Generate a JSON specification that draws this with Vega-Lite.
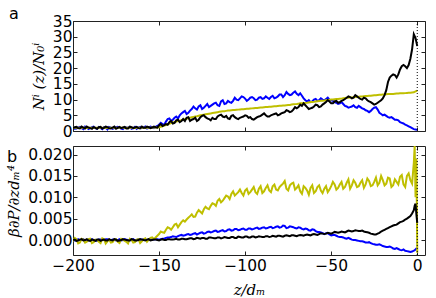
{
"$schema": "https://vega.github.io/schema/vega-lite/v6.json",
"padding": {"left": 6, "top": 5, "right": 5, "bottom": 0},
"spacing": 15,
"bounds": "flush",
"config": {
  "view": {"stroke": "#222", "strokeWidth": 1},
  "axis": {"grid": false, "domain": false, "tickSize": -4, "tickColor": "#222", "tickWidth": 1, "minExtent": 0,
    "labelFont": "DejaVu Sans", "labelFontSize": 15.5, "labelColor": "#000", "labelOverlap": false, "labelFlush": false, "labelBound": false,
    "titleFont": "DejaVu Serif", "titleFontStyle": "italic", "titleFontWeight": "normal", "titleFontSize": 15, "titleColor": "#000"},
  "title": {"font": "DejaVu Sans", "fontSize": 16, "fontWeight": "normal", "color": "#000", "anchor": "start", "frame": "group"}
},
"vconcat": [
{
  "width": 352, "height": 110,
  "title": {"text": "a", "dx": -64, "dy": 8, "offset": 0},
  "data": {"values": [
{"z":-200,"b":1.2,"y":1.0,"k":0.9},{"z":-198,"b":0.8,"y":1.0,"k":1.3},{"z":-196,"b":1.3,"y":1.05,"k":0.8},{"z":-194,"b":0.6,"y":1.0,"k":1.1},
{"z":-192,"b":1.1,"y":0.95,"k":1.4},{"z":-190,"b":0.9,"y":1.0,"k":0.9},{"z":-188,"b":1.4,"y":1.0,"k":1.2},{"z":-186,"b":0.7,"y":1.05,"k":0.7},
{"z":-184,"b":1.0,"y":1.0,"k":1.3},{"z":-182,"b":1.2,"y":1.0,"k":1.0},{"z":-180,"b":0.5,"y":0.95,"k":1.2},{"z":-178,"b":1.1,"y":1.0,"k":0.8},
{"z":-176,"b":0.9,"y":1.0,"k":1.4},{"z":-174,"b":1.3,"y":1.0,"k":1.0},{"z":-172,"b":0.8,"y":1.05,"k":0.9},{"z":-170,"b":1.2,"y":1.0,"k":1.3},
{"z":-168,"b":1.0,"y":1.0,"k":0.8},{"z":-166,"b":0.7,"y":1.0,"k":1.2},{"z":-164,"b":1.3,"y":0.95,"k":1.1},{"z":-162,"b":1.1,"y":1.0,"k":0.9},
{"z":-160,"b":0.9,"y":1.0,"k":1.4},{"z":-158,"b":1.4,"y":1.05,"k":1.0},{"z":-156,"b":1.0,"y":1.05,"k":1.2},{"z":-154,"b":1.2,"y":1.1,"k":1.1},
{"z":-152,"b":1.3,"y":1.1,"k":1.2},{"z":-150,"b":2.0,"y":1.2,"k":1.8},{"z":-148,"b":2.2,"y":1.5,"k":1.6},{"z":-146,"b":3.0,"y":1.9,"k":2.2},
{"z":-144,"b":4.0,"y":2.3,"k":2.8},{"z":-142,"b":3.6,"y":2.7,"k":2.4},{"z":-140,"b":4.6,"y":3.0,"k":3.4},{"z":-138,"b":5.0,"y":3.3,"k":2.8},
{"z":-136,"b":6.0,"y":3.6,"k":3.8},{"z":-134,"b":5.4,"y":3.9,"k":4.2},{"z":-132,"b":6.5,"y":4.2,"k":3.2},{"z":-130,"b":7.8,"y":4.5,"k":3.8},
{"z":-128,"b":6.8,"y":4.7,"k":3.2},{"z":-126,"b":8.2,"y":5.0,"k":4.4},{"z":-124,"b":7.4,"y":5.2,"k":5.0},{"z":-122,"b":8.6,"y":5.4,"k":4.0},
{"z":-120,"b":8.0,"y":5.6,"k":3.4},{"z":-118,"b":8.8,"y":5.8,"k":3.8},{"z":-116,"b":8.2,"y":6.0,"k":4.6},{"z":-114,"b":9.4,"y":6.2,"k":5.2},
{"z":-112,"b":8.6,"y":6.3,"k":4.4},{"z":-110,"b":9.6,"y":6.5,"k":4.0},{"z":-108,"b":9.0,"y":6.6,"k":4.8},{"z":-106,"b":10.6,"y":6.7,"k":4.4},
{"z":-104,"b":9.8,"y":6.8,"k":3.8},{"z":-102,"b":11.0,"y":6.9,"k":4.4},{"z":-100,"b":10.3,"y":7.0,"k":5.0},{"z":-98,"b":10.0,"y":7.1,"k":4.2},
{"z":-96,"b":10.8,"y":7.2,"k":3.8},{"z":-94,"b":9.8,"y":7.3,"k":4.0},{"z":-92,"b":10.6,"y":7.4,"k":4.6},{"z":-90,"b":10.2,"y":7.5,"k":5.2},
{"z":-88,"b":11.0,"y":7.6,"k":5.0},{"z":-86,"b":10.2,"y":7.7,"k":4.6},{"z":-84,"b":11.2,"y":7.8,"k":5.2},{"z":-82,"b":10.6,"y":7.9,"k":5.6},
{"z":-80,"b":11.6,"y":8.0,"k":5.2},{"z":-78,"b":10.8,"y":8.1,"k":5.8},{"z":-76,"b":12.4,"y":8.2,"k":6.6},{"z":-74,"b":11.4,"y":8.3,"k":6.0},
{"z":-72,"b":12.2,"y":8.5,"k":6.8},{"z":-70,"b":11.8,"y":8.6,"k":7.2},{"z":-68,"b":12.0,"y":8.8,"k":8.4},{"z":-66,"b":10.4,"y":8.9,"k":8.8},
{"z":-64,"b":9.4,"y":9.0,"k":7.6},{"z":-62,"b":9.2,"y":9.2,"k":7.2},{"z":-60,"b":10.0,"y":9.3,"k":7.8},{"z":-58,"b":9.6,"y":9.5,"k":8.2},
{"z":-56,"b":10.4,"y":9.6,"k":7.8},{"z":-54,"b":9.8,"y":9.7,"k":8.8},{"z":-52,"b":10.6,"y":9.9,"k":9.8},{"z":-50,"b":9.8,"y":10.0,"k":8.8},
{"z":-48,"b":9.2,"y":10.1,"k":9.4},{"z":-46,"b":8.6,"y":10.2,"k":9.0},{"z":-44,"b":9.2,"y":10.3,"k":9.6},{"z":-42,"b":8.0,"y":10.5,"k":10.2},
{"z":-40,"b":7.4,"y":10.6,"k":11.0},{"z":-38,"b":7.8,"y":10.7,"k":10.4},{"z":-36,"b":7.6,"y":10.8,"k":11.4},{"z":-34,"b":8.0,"y":10.9,"k":10.6},
{"z":-32,"b":7.2,"y":11.0,"k":10.0},{"z":-30,"b":6.6,"y":11.1,"k":10.4},{"z":-28,"b":6.0,"y":11.2,"k":9.4},{"z":-26,"b":7.0,"y":11.3,"k":8.8},
{"z":-24,"b":7.6,"y":11.4,"k":8.6},{"z":-22,"b":5.8,"y":11.5,"k":9.4},{"z":-20,"b":5.0,"y":11.6,"k":10.4},{"z":-18,"b":4.8,"y":11.7,"k":13.0},
{"z":-16,"b":4.2,"y":11.8,"k":17.0},{"z":-14,"b":4.0,"y":11.8,"k":18.0},{"z":-12,"b":3.6,"y":11.9,"k":17.0},{"z":-10,"b":2.8,"y":12.0,"k":19.6},
{"z":-8,"b":2.4,"y":12.0,"k":21.0},{"z":-6,"b":1.8,"y":12.1,"k":20.0},{"z":-4,"b":1.2,"y":12.2,"k":23.0},{"z":-2,"b":0.6,"y":12.3,"k":30.8},
{"z":-1,"b":0.5,"y":12.6,"k":29.6},{"z":0,"b":0.4,"y":12.8,"k":27.0},
{"z":-199,"b":0.7,"y":1.0,"k":1.2},{"z":-197,"b":1.1,"y":1.0,"k":0.9},{"z":-195,"b":0.9,"y":1.0,"k":1.4},{"z":-193,"b":1.4,"y":1.0,"k":0.8},
{"z":-191,"b":0.6,"y":1.0,"k":1.1},{"z":-189,"b":1.2,"y":1.0,"k":0.7},{"z":-187,"b":0.9,"y":1.05,"k":1.0},{"z":-185,"b":1.3,"y":1.0,"k":1.2},
{"z":-183,"b":0.6,"y":1.0,"k":0.8},{"z":-181,"b":1.0,"y":1.0,"k":1.4},{"z":-179,"b":1.3,"y":1.0,"k":0.9},{"z":-177,"b":0.7,"y":1.0,"k":1.1},
{"z":-175,"b":1.2,"y":1.0,"k":0.7},{"z":-173,"b":1.0,"y":1.0,"k":1.3},{"z":-171,"b":0.6,"y":1.0,"k":1.1},{"z":-169,"b":1.1,"y":1.0,"k":0.8},
{"z":-167,"b":1.3,"y":1.0,"k":1.4},{"z":-165,"b":0.9,"y":1.0,"k":0.9},{"z":-163,"b":0.7,"y":1.0,"k":1.3},{"z":-161,"b":1.3,"y":1.0,"k":0.8},
{"z":-159,"b":1.1,"y":1.05,"k":1.0},{"z":-157,"b":0.8,"y":1.05,"k":1.4},{"z":-155,"b":1.4,"y":1.05,"k":0.9},{"z":-153,"b":0.9,"y":1.1,"k":1.4},
{"z":-151,"b":1.6,"y":1.15,"k":1.1},{"z":-149,"b":2.6,"y":1.35,"k":2.2},{"z":-147,"b":2.0,"y":1.7,"k":1.9},{"z":-145,"b":3.8,"y":2.1,"k":2.0},
{"z":-143,"b":3.2,"y":2.5,"k":3.2},{"z":-141,"b":4.2,"y":2.85,"k":2.6},{"z":-139,"b":4.0,"y":3.15,"k":3.6},{"z":-137,"b":5.6,"y":3.45,"k":3.2},
{"z":-135,"b":6.4,"y":3.75,"k":3.2},{"z":-133,"b":5.8,"y":4.05,"k":4.4},{"z":-131,"b":7.0,"y":4.35,"k":3.6},{"z":-129,"b":7.2,"y":4.6,"k":4.2},
{"z":-127,"b":7.8,"y":4.85,"k":3.6},{"z":-125,"b":7.0,"y":5.1,"k":4.8},{"z":-123,"b":8.0,"y":5.3,"k":4.4},{"z":-121,"b":7.6,"y":5.5,"k":3.8},
{"z":-119,"b":8.4,"y":5.7,"k":4.2},{"z":-117,"b":9.0,"y":5.9,"k":3.8},{"z":-115,"b":8.0,"y":6.1,"k":5.0},{"z":-113,"b":9.8,"y":6.25,"k":4.6},
{"z":-111,"b":8.8,"y":6.4,"k":4.8},{"z":-109,"b":9.2,"y":6.55,"k":3.8},{"z":-107,"b":9.6,"y":6.65,"k":5.0},{"z":-105,"b":10.0,"y":6.75,"k":4.0},
{"z":-103,"b":10.4,"y":6.85,"k":4.2},{"z":-101,"b":10.8,"y":6.95,"k":4.6},{"z":-99,"b":9.6,"y":7.05,"k":4.8},{"z":-97,"b":10.6,"y":7.15,"k":4.4},
{"z":-95,"b":10.4,"y":7.25,"k":3.6},{"z":-93,"b":10.0,"y":7.35,"k":4.4},{"z":-91,"b":10.8,"y":7.45,"k":4.8},{"z":-89,"b":10.4,"y":7.55,"k":5.6},
{"z":-87,"b":10.6,"y":7.65,"k":4.6},{"z":-85,"b":10.8,"y":7.75,"k":5.0},{"z":-83,"b":10.4,"y":7.85,"k":5.4},{"z":-81,"b":11.0,"y":7.95,"k":5.0},
{"z":-79,"b":11.6,"y":8.05,"k":5.6},{"z":-77,"b":11.4,"y":8.15,"k":6.0},{"z":-75,"b":11.8,"y":8.25,"k":6.4},{"z":-73,"b":11.6,"y":8.4,"k":6.2},
{"z":-71,"b":12.6,"y":8.55,"k":7.6},{"z":-69,"b":11.4,"y":8.7,"k":7.6},{"z":-67,"b":11.2,"y":8.85,"k":8.0},{"z":-65,"b":9.8,"y":8.95,"k":8.2},
{"z":-63,"b":9.8,"y":9.1,"k":7.0},{"z":-61,"b":9.4,"y":9.25,"k":7.4},{"z":-59,"b":10.2,"y":9.4,"k":8.4},{"z":-57,"b":9.8,"y":9.55,"k":7.6},
{"z":-55,"b":10.0,"y":9.65,"k":8.4},{"z":-53,"b":10.2,"y":9.8,"k":9.2},{"z":-51,"b":10.0,"y":9.95,"k":9.4},{"z":-49,"b":9.6,"y":10.05,"k":8.8},
{"z":-47,"b":9.0,"y":10.15,"k":9.6},{"z":-45,"b":8.8,"y":10.25,"k":9.2},{"z":-43,"b":8.6,"y":10.4,"k":9.8},{"z":-41,"b":7.8,"y":10.55,"k":10.6},
{"z":-39,"b":7.6,"y":10.65,"k":10.8},{"z":-37,"b":8.2,"y":10.75,"k":10.6},{"z":-35,"b":7.4,"y":10.85,"k":11.0},{"z":-33,"b":7.6,"y":10.95,"k":10.2},
{"z":-31,"b":7.0,"y":11.05,"k":10.6},{"z":-29,"b":6.4,"y":11.15,"k":9.8},{"z":-27,"b":6.4,"y":11.25,"k":9.2},{"z":-25,"b":7.4,"y":11.35,"k":8.4},
{"z":-23,"b":6.8,"y":11.45,"k":9.0},{"z":-21,"b":5.4,"y":11.55,"k":9.8},{"z":-19,"b":5.2,"y":11.65,"k":11.4},{"z":-17,"b":4.4,"y":11.75,"k":15.6},
{"z":-15,"b":4.4,"y":11.8,"k":17.6},{"z":-13,"b":3.6,"y":11.85,"k":17.8},{"z":-11,"b":3.4,"y":11.95,"k":18.0},{"z":-9,"b":2.6,"y":12.0,"k":20.6},
{"z":-7,"b":2.0,"y":12.05,"k":20.6},{"z":-5,"b":1.5,"y":12.15,"k":21.0},{"z":-3,"b":0.9,"y":12.25,"k":26.0}
  ]},
  "layer": [
    {"mark": {"type": "line", "color": "#0000ff", "strokeWidth": 2, "clip": true},
     "encoding": {
       "x": {"field": "z", "type": "quantitative", "scale": {"domain": [-200, 4.5], "nice": false, "zero": false},
             "axis": {"orient": "bottom", "labels": false, "title": null, "values": [-200, -150, -100, -50, 0]}},
       "y": {"field": "b", "type": "quantitative", "scale": {"domain": [0, 35], "nice": false},
             "axis": {"orient": "left", "values": [0, 5, 10, 15, 20, 25, 30, 35], "title": "Nⁱ (z)/N₀ⁱ", "labelPadding": 5, "titlePadding": 6}}}},
    {"mark": {"type": "line", "color": "#bfbf00", "strokeWidth": 2, "clip": true},
     "encoding": {
       "x": {"field": "z", "type": "quantitative", "scale": {"domain": [-200, 4.5], "nice": false, "zero": false},
             "axis": {"orient": "top", "labels": false, "title": null, "values": [-200, -150, -100, -50, 0]}},
       "y": {"field": "y", "type": "quantitative", "scale": {"domain": [0, 35], "nice": false},
             "axis": {"orient": "right", "labels": false, "title": null, "values": [0, 5, 10, 15, 20, 25, 30, 35]}}}},
    {"mark": {"type": "line", "color": "#000000", "strokeWidth": 2, "clip": true},
     "encoding": {
       "x": {"field": "z", "type": "quantitative", "scale": {"domain": [-200, 4.5], "nice": false, "zero": false}, "axis": null},
       "y": {"field": "k", "type": "quantitative", "scale": {"domain": [0, 35], "nice": false}, "axis": null}}},
    {"data": {"values": [{"x0": 0}]},
     "mark": {"type": "rule", "color": "#000000", "strokeWidth": 1, "strokeDash": [1, 2]},
     "encoding": {"x": {"field": "x0", "type": "quantitative", "scale": {"domain": [-200, 4.5], "nice": false, "zero": false}, "axis": null}}}
  ],
  "resolve": {"axis": {"x": "independent", "y": "independent"}}
},
{
  "width": 352, "height": 109,
  "title": {"text": "b", "dx": -66, "dy": 19, "offset": 0},
  "data": {"values": [
{"z":-200,"b":0.0001,"y":-0.0003,"k":0.0},{"z":-198,"b":-0.0001,"y":0.0002,"k":-0.0002},{"z":-196,"b":0.0,"y":-0.0006,"k":0.0001},{"z":-194,"b":0.0002,"y":0.0001,"k":-0.0001},
{"z":-192,"b":-0.0001,"y":-0.0004,"k":0.0002},{"z":-190,"b":0.0001,"y":0.0003,"k":-0.0002},{"z":-188,"b":0.0,"y":-0.0005,"k":0.0},{"z":-186,"b":-0.0002,"y":0.0,"k":0.0001},
{"z":-184,"b":0.0001,"y":-0.0007,"k":-0.0002},{"z":-182,"b":0.0,"y":0.0002,"k":0.0001},{"z":-180,"b":0.0002,"y":-0.0003,"k":-0.0001},{"z":-178,"b":-0.0001,"y":-0.0006,"k":0.0},
{"z":-176,"b":0.0001,"y":0.0001,"k":0.0002},{"z":-174,"b":0.0,"y":-0.0004,"k":-0.0002},{"z":-172,"b":-0.0001,"y":0.0003,"k":0.0},{"z":-170,"b":0.0002,"y":-0.0002,"k":0.0001},
{"z":-168,"b":0.0,"y":-0.0008,"k":-0.0001},{"z":-166,"b":0.0001,"y":0.0,"k":0.0002},{"z":-164,"b":-0.0001,"y":-0.0005,"k":-0.0001},{"z":-162,"b":0.0002,"y":0.0002,"k":0.0},
{"z":-160,"b":0.0001,"y":-0.0003,"k":0.0001},{"z":-158,"b":0.0,"y":0.0004,"k":-0.0001},{"z":-156,"b":0.0002,"y":0.0001,"k":0.0002},{"z":-154,"b":0.0001,"y":0.0006,"k":0.0},
{"z":-152,"b":0.0002,"y":0.0006,"k":0.0001},{"z":-150,"b":0.0001,"y":0.0014,"k":-0.0001},{"z":-148,"b":0.0003,"y":0.0018,"k":0.0002},{"z":-146,"b":0.0005,"y":0.0024,"k":0.0},
{"z":-144,"b":0.0006,"y":0.0028,"k":0.0002},{"z":-142,"b":0.0009,"y":0.0030,"k":0.0001},{"z":-140,"b":0.0007,"y":0.0038,"k":0.0003},{"z":-138,"b":0.0011,"y":0.0036,"k":0.0001},
{"z":-136,"b":0.0010,"y":0.0046,"k":0.0003},{"z":-134,"b":0.0013,"y":0.0048,"k":0.0002},{"z":-132,"b":0.0012,"y":0.0056,"k":0.0004},{"z":-130,"b":0.0015,"y":0.0054,"k":0.0002},
{"z":-128,"b":0.0013,"y":0.0064,"k":0.0005},{"z":-126,"b":0.0017,"y":0.0066,"k":0.0003},{"z":-124,"b":0.0015,"y":0.0072,"k":0.0005},{"z":-122,"b":0.0019,"y":0.0074,"k":0.0003},
{"z":-120,"b":0.0018,"y":0.0080,"k":0.0006},{"z":-118,"b":0.0021,"y":0.0084,"k":0.0004},{"z":-116,"b":0.0019,"y":0.0092,"k":0.0006},{"z":-114,"b":0.0022,"y":0.0088,"k":0.0004},
{"z":-112,"b":0.0020,"y":0.0098,"k":0.0007},{"z":-110,"b":0.0024,"y":0.0102,"k":0.0005},{"z":-108,"b":0.0022,"y":0.0108,"k":0.0007},{"z":-106,"b":0.0026,"y":0.0104,"k":0.0005},
{"z":-104,"b":0.0023,"y":0.0112,"k":0.0008},{"z":-102,"b":0.0026,"y":0.0110,"k":0.0006},{"z":-100,"b":0.0024,"y":0.0116,"k":0.0008},{"z":-98,"b":0.0027,"y":0.0108,"k":0.0006},
{"z":-96,"b":0.0025,"y":0.0118,"k":0.0008},{"z":-94,"b":0.0028,"y":0.0112,"k":0.0006},{"z":-92,"b":0.0026,"y":0.0120,"k":0.0009},{"z":-90,"b":0.0029,"y":0.0110,"k":0.0007},
{"z":-88,"b":0.0027,"y":0.0122,"k":0.0009},{"z":-86,"b":0.0030,"y":0.0116,"k":0.0007},{"z":-84,"b":0.0028,"y":0.0126,"k":0.0010},{"z":-82,"b":0.0031,"y":0.0118,"k":0.0008},
{"z":-80,"b":0.0029,"y":0.0124,"k":0.0010},{"z":-78,"b":0.0034,"y":0.0132,"k":0.0008},{"z":-76,"b":0.0028,"y":0.0120,"k":0.0011},{"z":-74,"b":0.0032,"y":0.0128,"k":0.0009},
{"z":-72,"b":0.0030,"y":0.0134,"k":0.0011},{"z":-70,"b":0.0027,"y":0.0122,"k":0.0009},{"z":-68,"b":0.0029,"y":0.0114,"k":0.0012},{"z":-66,"b":0.0025,"y":0.0126,"k":0.0010},
{"z":-64,"b":0.0026,"y":0.0116,"k":0.0013},{"z":-62,"b":0.0022,"y":0.0122,"k":0.0011},{"z":-60,"b":0.0024,"y":0.0110,"k":0.0014},{"z":-58,"b":0.0019,"y":0.0124,"k":0.0012},
{"z":-56,"b":0.0018,"y":0.0116,"k":0.0016},{"z":-54,"b":0.0014,"y":0.0120,"k":0.0014},{"z":-52,"b":0.0016,"y":0.0112,"k":0.0017},{"z":-50,"b":0.0011,"y":0.0126,"k":0.0015},
{"z":-48,"b":0.0012,"y":0.0130,"k":0.0019},{"z":-46,"b":0.0008,"y":0.0122,"k":0.0017},{"z":-44,"b":0.0007,"y":0.0136,"k":0.0020},{"z":-42,"b":0.0004,"y":0.0124,"k":0.0018},
{"z":-40,"b":0.0005,"y":0.0142,"k":0.0022},{"z":-38,"b":0.0001,"y":0.0128,"k":0.0020},{"z":-36,"b":0.0,"y":0.0134,"k":0.0023},{"z":-34,"b":-0.0002,"y":0.0126,"k":0.0021},
{"z":-32,"b":-0.0003,"y":0.0140,"k":0.0022},{"z":-30,"b":-0.0006,"y":0.0130,"k":0.0019},{"z":-28,"b":-0.0005,"y":0.0138,"k":0.0017},{"z":-26,"b":-0.0009,"y":0.0128,"k":0.0014},
{"z":-24,"b":-0.0011,"y":0.0146,"k":0.0013},{"z":-22,"b":-0.0010,"y":0.0134,"k":0.0017},{"z":-20,"b":-0.0014,"y":0.0140,"k":0.0022},{"z":-18,"b":-0.0016,"y":0.0132,"k":0.0026},
{"z":-16,"b":-0.0015,"y":0.0144,"k":0.0030},{"z":-14,"b":-0.0020,"y":0.0128,"k":0.0034},{"z":-12,"b":-0.0019,"y":0.0136,"k":0.0036},{"z":-10,"b":-0.0023,"y":0.0148,"k":0.0042},
{"z":-8,"b":-0.0022,"y":0.0130,"k":0.0045},{"z":-6,"b":-0.0026,"y":0.0150,"k":0.0050},{"z":-4,"b":-0.0028,"y":0.0140,"k":0.0056},{"z":-2,"b":-0.0025,"y":0.0180,"k":0.0070},
{"z":-1.5,"b":-0.0024,"y":0.0220,"k":0.0080},{"z":-1,"b":-0.0022,"y":0.0100,"k":0.0085},{"z":-0.5,"b":-0.0020,"y":0.0190,"k":0.0060},{"z":0,"b":-0.0020,"y":-0.0030,"k":0.0040},
{"z":-199,"b":-0.0001,"y":0.0005,"k":0.0001},{"z":-197,"b":0.0002,"y":-0.0008,"k":-0.0001},{"z":-195,"b":0.0,"y":0.0003,"k":0.0002},{"z":-193,"b":-0.0001,"y":-0.0006,"k":0.0},
{"z":-191,"b":0.0001,"y":0.0002,"k":-0.0001},{"z":-189,"b":0.0002,"y":-0.0007,"k":0.0001},{"z":-187,"b":-0.0001,"y":0.0001,"k":-0.0002},{"z":-185,"b":0.0001,"y":-0.0004,"k":0.0001},
{"z":-183,"b":0.0,"y":0.0004,"k":0.0},{"z":-181,"b":0.0002,"y":-0.0008,"k":-0.0001},{"z":-179,"b":0.0,"y":0.0001,"k":0.0002},{"z":-177,"b":0.0001,"y":-0.0005,"k":-0.0001},
{"z":-175,"b":-0.0001,"y":0.0002,"k":0.0001},{"z":-173,"b":0.0002,"y":-0.0007,"k":-0.0001},{"z":-171,"b":0.0,"y":0.0001,"k":0.0002},{"z":-169,"b":0.0001,"y":-0.0004,"k":0.0},
{"z":-167,"b":-0.0001,"y":0.0003,"k":-0.0001},{"z":-165,"b":0.0002,"y":-0.0006,"k":0.0001},{"z":-163,"b":0.0,"y":0.0001,"k":-0.0001},{"z":-161,"b":0.0001,"y":-0.0007,"k":0.0002},
{"z":-159,"b":0.0002,"y":0.0002,"k":0.0},{"z":-157,"b":0.0,"y":-0.0004,"k":0.0001},{"z":-155,"b":0.0002,"y":0.0005,"k":-0.0001},{"z":-153,"b":0.0001,"y":0.0002,"k":0.0001},
{"z":-151,"b":0.0002,"y":0.0010,"k":0.0},{"z":-149,"b":0.0002,"y":0.0020,"k":0.0001},{"z":-147,"b":0.0003,"y":0.0017,"k":0.0},{"z":-145,"b":0.0006,"y":0.0030,"k":0.0002},
{"z":-143,"b":0.0007,"y":0.0024,"k":0.0001},{"z":-141,"b":0.0008,"y":0.0036,"k":0.0002},{"z":-139,"b":0.0009,"y":0.0030,"k":0.0001},{"z":-137,"b":0.0012,"y":0.0042,"k":0.0003},
{"z":-135,"b":0.0011,"y":0.0043,"k":0.0002},{"z":-133,"b":0.0014,"y":0.0052,"k":0.0003},{"z":-131,"b":0.0013,"y":0.0060,"k":0.0004},{"z":-129,"b":0.0016,"y":0.0055,"k":0.0003},
{"z":-127,"b":0.0015,"y":0.0070,"k":0.0004},{"z":-125,"b":0.0018,"y":0.0062,"k":0.0005},{"z":-123,"b":0.0016,"y":0.0078,"k":0.0003},{"z":-121,"b":0.0020,"y":0.0072,"k":0.0006},
{"z":-119,"b":0.0019,"y":0.0086,"k":0.0005},{"z":-117,"b":0.0022,"y":0.0080,"k":0.0004},{"z":-115,"b":0.0020,"y":0.0096,"k":0.0006},{"z":-113,"b":0.0023,"y":0.0092,"k":0.0005},
{"z":-111,"b":0.0021,"y":0.0104,"k":0.0006},{"z":-109,"b":0.0025,"y":0.0096,"k":0.0005},{"z":-107,"b":0.0023,"y":0.0114,"k":0.0007},{"z":-105,"b":0.0026,"y":0.0108,"k":0.0005},
{"z":-103,"b":0.0024,"y":0.0118,"k":0.0007},{"z":-101,"b":0.0027,"y":0.0104,"k":0.0006},{"z":-99,"b":0.0024,"y":0.0120,"k":0.0008},{"z":-97,"b":0.0027,"y":0.0112,"k":0.0006},
{"z":-95,"b":0.0026,"y":0.0124,"k":0.0008},{"z":-93,"b":0.0029,"y":0.0108,"k":0.0007},{"z":-91,"b":0.0027,"y":0.0126,"k":0.0008},{"z":-89,"b":0.0030,"y":0.0114,"k":0.0007},
{"z":-87,"b":0.0028,"y":0.0128,"k":0.0009},{"z":-85,"b":0.0031,"y":0.0112,"k":0.0008},{"z":-83,"b":0.0029,"y":0.0130,"k":0.0009},{"z":-81,"b":0.0032,"y":0.0116,"k":0.0010},
{"z":-79,"b":0.0030,"y":0.0128,"k":0.0009},{"z":-77,"b":0.0033,"y":0.0138,"k":0.0010},{"z":-75,"b":0.0029,"y":0.0116,"k":0.0010},{"z":-73,"b":0.0031,"y":0.0132,"k":0.0011},
{"z":-71,"b":0.0028,"y":0.0118,"k":0.0010},{"z":-69,"b":0.0030,"y":0.0128,"k":0.0011},{"z":-67,"b":0.0026,"y":0.0108,"k":0.0011},{"z":-65,"b":0.0027,"y":0.0122,"k":0.0012},
{"z":-63,"b":0.0023,"y":0.0106,"k":0.0012},{"z":-61,"b":0.0025,"y":0.0128,"k":0.0013},{"z":-59,"b":0.0021,"y":0.0114,"k":0.0013},{"z":-57,"b":0.0019,"y":0.0128,"k":0.0014},
{"z":-55,"b":0.0016,"y":0.0110,"k":0.0015},{"z":-53,"b":0.0016,"y":0.0126,"k":0.0015},{"z":-51,"b":0.0013,"y":0.0118,"k":0.0016},{"z":-49,"b":0.0012,"y":0.0136,"k":0.0017},
{"z":-47,"b":0.0010,"y":0.0118,"k":0.0018},{"z":-45,"b":0.0007,"y":0.0130,"k":0.0018},{"z":-43,"b":0.0006,"y":0.0120,"k":0.0019},{"z":-41,"b":0.0003,"y":0.0134,"k":0.0020},
{"z":-39,"b":0.0003,"y":0.0120,"k":0.0021},{"z":-37,"b":0.0,"y":0.0140,"k":0.0021},{"z":-35,"b":-0.0001,"y":0.0124,"k":0.0022},{"z":-33,"b":-0.0003,"y":0.0134,"k":0.0021},
{"z":-31,"b":-0.0004,"y":0.0122,"k":0.0020},{"z":-29,"b":-0.0006,"y":0.0144,"k":0.0018},{"z":-27,"b":-0.0007,"y":0.0126,"k":0.0015},{"z":-25,"b":-0.0010,"y":0.0136,"k":0.0013},
{"z":-23,"b":-0.0011,"y":0.0128,"k":0.0015},{"z":-21,"b":-0.0012,"y":0.0150,"k":0.0020},{"z":-19,"b":-0.0015,"y":0.0128,"k":0.0024},{"z":-17,"b":-0.0016,"y":0.0146,"k":0.0028},
{"z":-15,"b":-0.0017,"y":0.0124,"k":0.0032},{"z":-13,"b":-0.0021,"y":0.0142,"k":0.0035},{"z":-11,"b":-0.0021,"y":0.0130,"k":0.0039},{"z":-9,"b":-0.0024,"y":0.0152,"k":0.0043},
{"z":-7,"b":-0.0025,"y":0.0124,"k":0.0048},{"z":-5,"b":-0.0027,"y":0.0156,"k":0.0053},{"z":-3,"b":-0.0027,"y":0.0132,"k":0.0062}
  ]},
  "layer": [
    {"mark": {"type": "line", "color": "#0000ff", "strokeWidth": 2, "clip": true},
     "encoding": {
       "x": {"field": "z", "type": "quantitative", "scale": {"domain": [-200, 4.5], "nice": false, "zero": false},
             "axis": {"orient": "bottom", "values": [-200, -150, -100, -50, 0], "format": "d", "title": "z/dₘ", "labelPadding": 7.5, "titlePadding": 8}},
       "y": {"field": "b", "type": "quantitative", "scale": {"domain": [-0.0035, 0.022], "nice": false, "zero": false},
             "axis": {"orient": "left", "values": [0, 0.005, 0.01, 0.015, 0.02], "format": ".3f", "title": "β∂P/∂zdₘ⁴", "labelPadding": 5, "titlePadding": 6}}}},
    {"mark": {"type": "line", "color": "#bfbf00", "strokeWidth": 2, "clip": true},
     "encoding": {
       "x": {"field": "z", "type": "quantitative", "scale": {"domain": [-200, 4.5], "nice": false, "zero": false},
             "axis": {"orient": "top", "labels": false, "title": null, "values": [-200, -150, -100, -50, 0]}},
       "y": {"field": "y", "type": "quantitative", "scale": {"domain": [-0.0035, 0.022], "nice": false, "zero": false},
             "axis": {"orient": "right", "labels": false, "title": null, "values": [0, 0.005, 0.01, 0.015, 0.02]}}}},
    {"mark": {"type": "line", "color": "#000000", "strokeWidth": 2, "clip": true},
     "encoding": {
       "x": {"field": "z", "type": "quantitative", "scale": {"domain": [-200, 4.5], "nice": false, "zero": false}, "axis": null},
       "y": {"field": "k", "type": "quantitative", "scale": {"domain": [-0.0035, 0.022], "nice": false, "zero": false}, "axis": null}}},
    {"data": {"values": [{"x0": 0}]},
     "mark": {"type": "rule", "color": "#000000", "strokeWidth": 1, "strokeDash": [1, 2]},
     "encoding": {"x": {"field": "x0", "type": "quantitative", "scale": {"domain": [-200, 4.5], "nice": false, "zero": false}, "axis": null}}}
  ],
  "resolve": {"axis": {"x": "independent", "y": "independent"}}
}
]
}
